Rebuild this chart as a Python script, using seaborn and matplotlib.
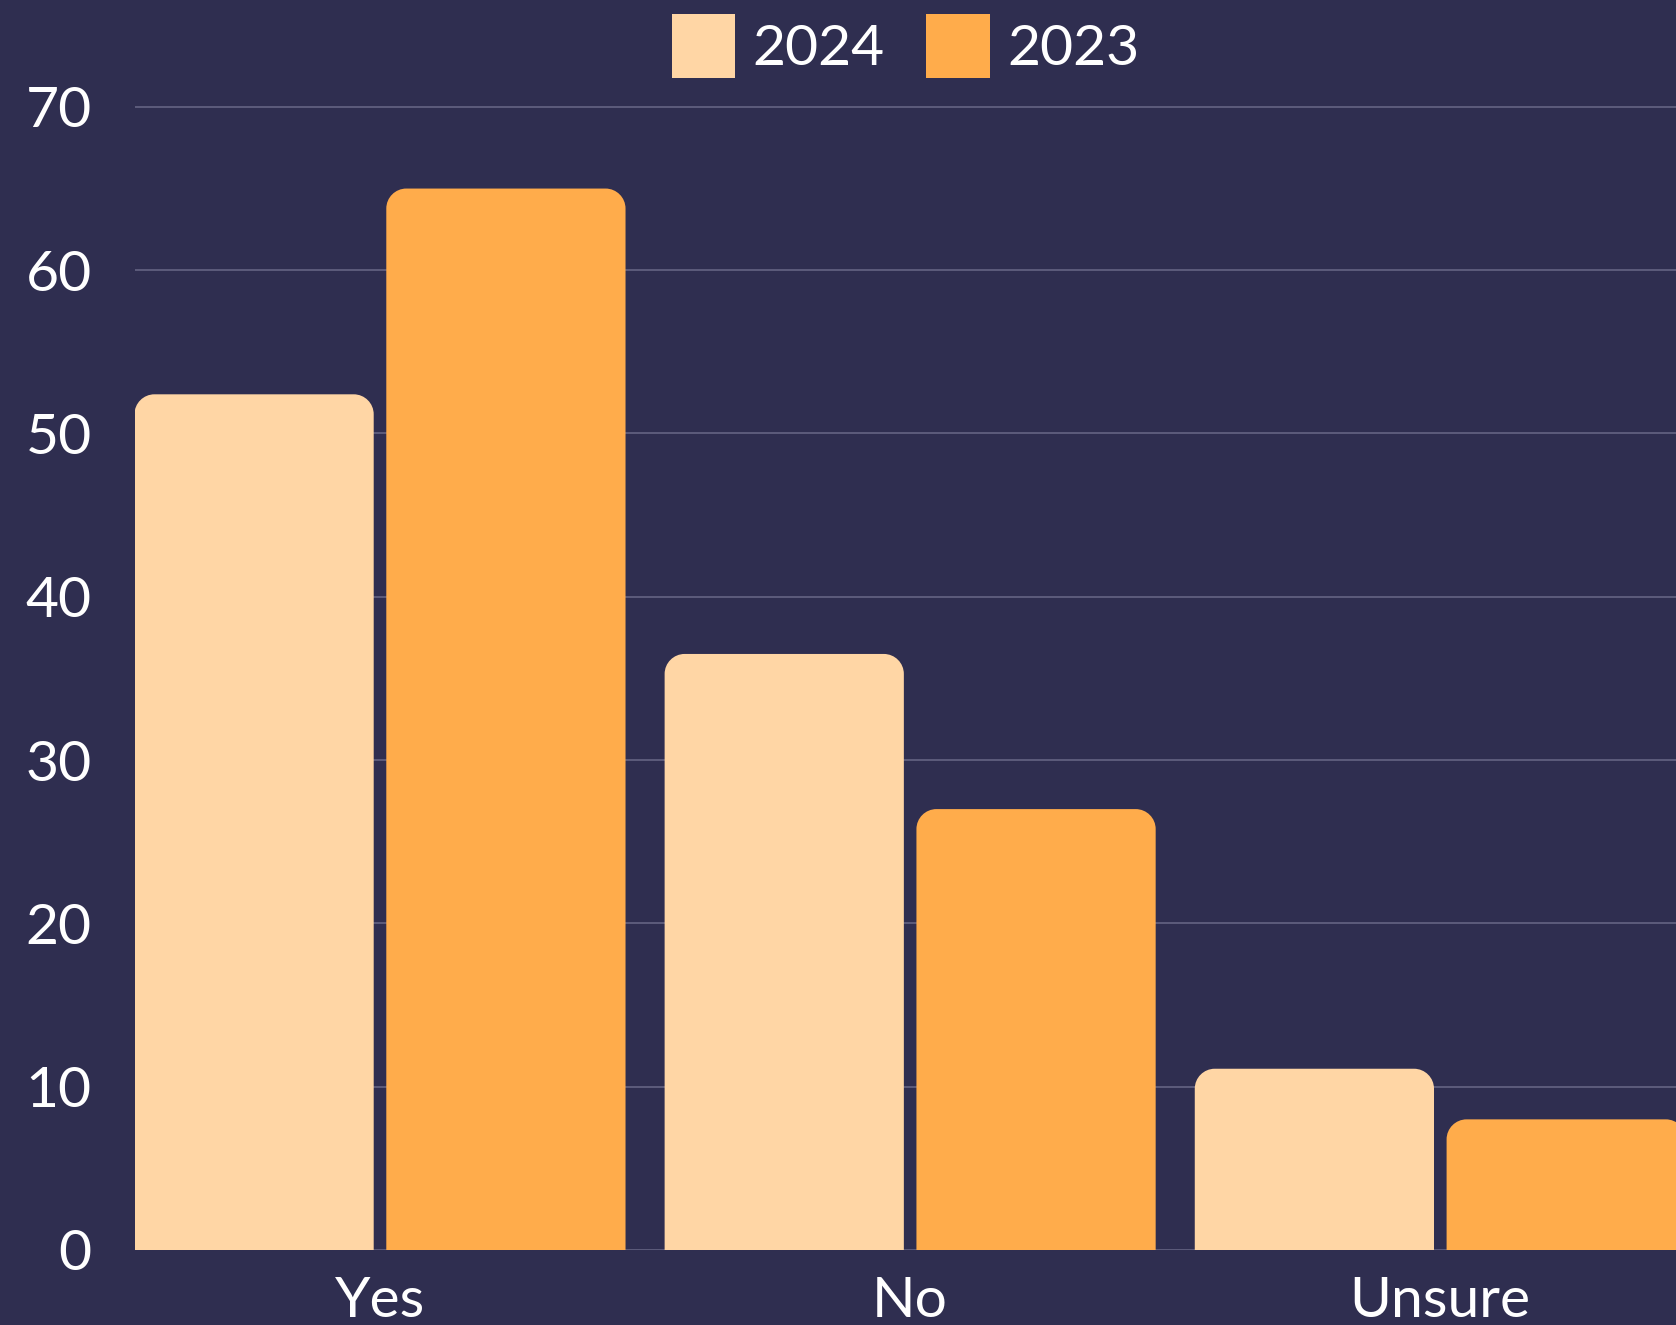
import matplotlib
matplotlib.use("Agg")
import matplotlib.pyplot as plt
import seaborn as sns
import pandas as pd
from matplotlib.patches import PathPatch
from matplotlib.path import Path

# ---- data ----
categories = ["Yes", "No", "Unsure"]
years = ["2024", "2023"]
values_2024 = [52.4, 36.5, 11.1]
values_2023 = [65.0, 27.0, 8.0]
y_ticks = [0, 10, 20, 30, 40, 50, 60, 70]

# ---- style ----
BG = "#2F2E50"
COLORS = ["#FFD6A5", "#FFAC4B"]
GRID = "#5D5C7C"
FS = 41

df = pd.DataFrame({
    "answer": categories * 2,
    "year": [years[0]] * len(categories) + [years[1]] * len(categories),
    "value": values_2024 + values_2023,
})

sns.set_theme(style="white")
plt.rcParams["font.family"] = ["Lato", "DejaVu Sans"]

W, H = 1676, 1325
fig = plt.figure(figsize=(W / 100, H / 100), dpi=100, facecolor=BG)

left_px, right_px = 134.7, 1676.0
base_px = 1250.0               # y of zero line, from top
px_per_y = 16.33
ylim = (0, 70.2)
xlim = (-0.4627, 2.4446)
ax_h = ylim[1] * px_per_y
ax = fig.add_axes([left_px / W, (H - base_px) / H,
                   (right_px - left_px) / W, ax_h / H])
ax.set_facecolor(BG)

sns.barplot(data=df, x="answer", y="value", hue="year", hue_order=years,
            order=categories, palette=COLORS, saturation=1, width=0.95,
            gap=0.05, ax=ax, edgecolor="none", linewidth=0, zorder=2)

ax.set_xlim(*xlim)
ax.set_ylim(*ylim)
ax.set_yticks(y_ticks)
ax.set_yticklabels([str(t) for t in y_ticks])
ax.set_xlabel("")
ax.set_ylabel("")
ax.yaxis.grid(True, color=GRID, linewidth=1.4, zorder=0)
ax.xaxis.grid(False)
ax.set_axisbelow(True)
for s in ax.spines.values():
    s.set_visible(False)
ax.tick_params(axis="both", length=0, labelsize=FS, labelcolor="white")
ax.tick_params(axis="y", pad=31)
ax.tick_params(axis="x", pad=19)

# ---- rounded top corners (single path per bar) ----
px_per_x = (right_px - left_px) / (xlim[1] - xlim[0])
r_px = 20
rx = r_px / px_per_x
ry = r_px / px_per_y
K = 0.5523


def top_rounded_path(x0, y0, w, h):
    x1, y1 = x0 + w, y0 + h
    verts = [
        (x0, y0),
        (x0, y1 - ry),
        (x0, y1 - ry + K * ry), (x0 + rx - K * rx, y1), (x0 + rx, y1),
        (x1 - rx, y1),
        (x1 - rx + K * rx, y1), (x1, y1 - ry + K * ry), (x1, y1 - ry),
        (x1, y0),
        (x0, y0),
    ]
    codes = [Path.MOVETO, Path.LINETO,
             Path.CURVE4, Path.CURVE4, Path.CURVE4,
             Path.LINETO,
             Path.CURVE4, Path.CURVE4, Path.CURVE4,
             Path.LINETO, Path.CLOSEPOLY]
    return Path(verts, codes)


for bar in list(ax.patches):
    x0, y0 = bar.get_xy()
    w, h = bar.get_width(), bar.get_height()
    if h <= 0:
        continue
    fc = bar.get_facecolor()
    bar.set_visible(False)
    ax.add_patch(PathPatch(top_rounded_path(x0, y0, w, h), fc=fc,
                           ec="none", lw=0, zorder=2))

# ---- legend ----
legend_cy = (H - 46 - (H - base_px)) / ax_h
sns.move_legend(ax, "center", bbox_to_anchor=(0.5, legend_cy), ncol=2,
                frameon=False, title=None, fontsize=FS,
                handlelength=1.12, handleheight=1.35, handletextpad=0.3,
                columnspacing=0.73, labelcolor="white")

fig.savefig("out.png", dpi=100, facecolor=BG)
